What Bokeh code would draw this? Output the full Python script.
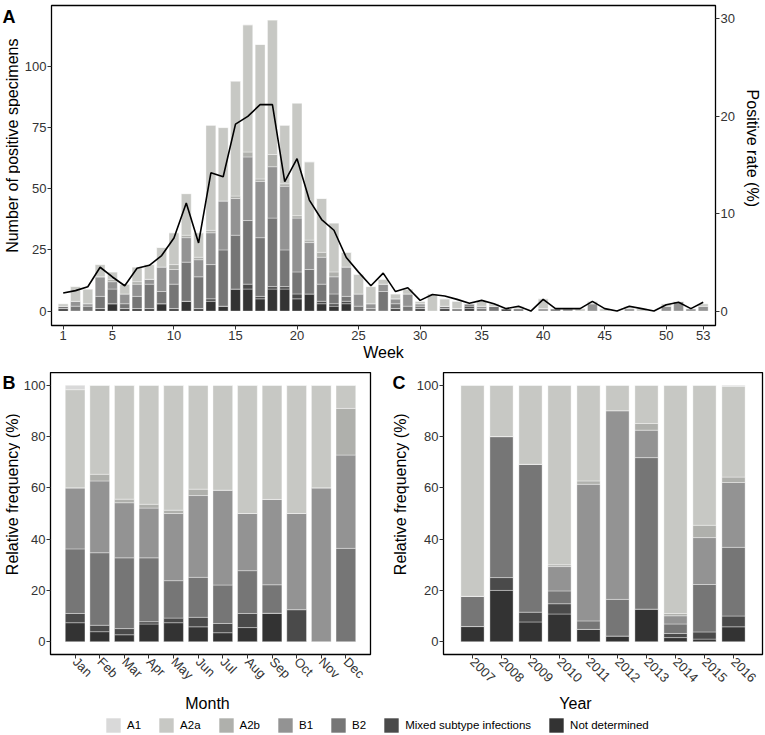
import math
from bokeh.plotting import figure
from bokeh.layouts import column, row
from bokeh.models import (ColumnDataSource, Range1d, LinearAxis, FixedTicker,
                          Legend, LegendItem)
from bokeh.core.properties import value
from bokeh.embed import file_html
from bokeh.resources import INLINE

FONT = "Liberation Sans"

# ---------------- data ----------------
subtypes = ["A1", "A2a", "A2b", "B1", "B2", "Mixed subtype infections", "Not determined"]
subtype_colors = ["#d9d9d9", "#c7c8c4", "#afb0ac", "#939393", "#767676", "#4a4a4a", "#333333"]

weeks = list(range(1, 54))
week_ticks = [1, 5, 10, 15, 20, 25, 30, 35, 40, 45, 50, 53]
wk_nd = [1, 0, 0, 1, 3, 1, 1, 1, 3, 1,
         4, 1, 4, 2, 9, 9, 5, 9, 9, 5,
         7, 3, 2, 3, 0, 0, 0, 1, 0, 1,
         0, 1, 0, 1, 0, 0, 1, 0, 0, 0,
         0, 0, 0, 0, 0, 0, 0, 0, 0, 0,
         0, 0, 0]
wk_mx = [0, 0, 0, 0, 0, 0, 0, 0, 0, 0,
         0, 0, 1, 0, 0, 2, 1, 1, 1, 2,
         0, 1, 1, 1, 0, 0, 0, 0, 0, 0,
         0, 0, 0, 1, 0, 0, 0, 0, 0, 0,
         0, 0, 0, 0, 0, 0, 0, 0, 0, 0,
         0, 0, 0]
wk_b2 = [1, 2, 2, 5, 6, 2, 5, 10, 5, 10,
         16, 13, 14, 23, 22, 26, 24, 28, 15, 9,
         10, 7, 4, 2, 2, 1, 8, 2, 2, 1,
         0, 1, 1, 1, 1, 2, 0, 1, 0, 0,
         1, 0, 0, 0, 0, 0, 0, 0, 0, 0,
         0, 0, 0]
wk_b1 = [0, 2, 1, 8, 3, 4, 5, 2, 10, 6,
         10, 7, 13, 20, 15, 26, 23, 21, 26, 22,
         11, 11, 7, 12, 5, 2, 3, 2, 5, 1,
         0, 0, 0, 0, 1, 0, 0, 0, 0, 1,
         0, 1, 0, 3, 0, 0, 1, 0, 0, 2,
         4, 1, 2]
wk_a2b = [0, 0, 0, 0, 1, 0, 1, 0, 0, 2,
          1, 1, 1, 0, 1, 2, 1, 5, 1, 1,
          1, 2, 2, 0, 0, 0, 0, 0, 0, 0,
          0, 0, 0, 0, 0, 0, 0, 0, 0, 0,
          0, 0, 0, 0, 0, 0, 0, 0, 0, 0,
          0, 0, 0]
wk_a2a = [1, 6, 6, 5, 3, 4, 6, 6, 8, 13,
          17, 10, 43, 30, 47, 52, 55, 55, 24, 46,
          32, 22, 20, 6, 8, 7, 2, 2, 2, 1,
          7, 3, 3, 0, 2, 1, 0, 1, 0, 4,
          0, 0, 1, 1, 1, 0, 1, 1, 0, 1,
          0, 0, 1]
wk_a1 = [0] * 53
wk_rate = [1.85, 2.1, 2.5, 4.5, 3.5, 2.6, 4.4, 4.7, 5.7, 7.5,
           11.1, 7.0, 14.2, 13.8, 19.2, 20.0, 21.2, 21.2, 13.3, 15.65,
           11.4, 9.4, 8.3, 5.5, 4.0, 2.6, 3.9, 2.0, 2.4, 1.1,
           1.7, 1.55, 1.2, 0.8, 1.1, 0.75, 0.25, 0.5, 0.0, 1.2,
           0.25, 0.25, 0.25, 1.0, 0.25, 0.0, 0.5, 0.25, 0.0, 0.65,
           0.9, 0.25, 0.9]

months = ["Jan", "Feb", "Mar", "Apr", "May", "Jun", "Jul", "Aug", "Sep", "Oct", "Nov", "Dec"]
mo_nd = [7.4, 3.9, 2.7, 6.9, 7.4, 5.8, 3.5, 5.5, 11.1, 0, 0, 0]
mo_mx = [3.6, 2.5, 2.4, 0.9, 1.8, 3.7, 3.6, 5.5, 0, 12.5, 0, 0]
mo_b2 = [25.2, 28.3, 27.6, 24.9, 14.6, 15.6, 15.0, 16.7, 11.1, 0, 0, 36.4]
mo_b1 = [23.8, 28.0, 21.5, 19.4, 26.2, 31.9, 37.0, 22.3, 33.3, 37.5, 60, 36.4]
mo_a2b = [0, 2.6, 1.4, 1.5, 1.3, 2.5, 0, 0, 0, 0, 0, 18.2]
mo_a2a = [38.3, 34.7, 44.4, 46.4, 48.7, 40.5, 40.9, 50, 44.5, 50, 40, 9.0]
mo_a1 = [1.7, 0, 0, 0, 0, 0, 0, 0, 0, 0, 0, 0]

years = ["2007", "2008", "2009", "2010", "2011", "2012", "2013", "2014", "2015", "2016"]
yr_nd = [5.9, 20, 7.7, 10.8, 4.8, 2.2, 12.7, 1.6, 1.0, 5.8]
yr_mx = [0, 5, 3.8, 4.0, 0, 0, 0, 1.6, 2.8, 4.2]
yr_b2 = [11.8, 55, 57.7, 5.0, 3.3, 14.3, 59.1, 3.7, 18.5, 26.8]
yr_b1 = [0, 0, 0, 9.5, 53.3, 73.6, 10.7, 3.2, 18.3, 25.3]
yr_a2b = [0, 0, 0, 0.7, 1.3, 0, 2.6, 0.9, 4.8, 2.1]
yr_a2a = [82.3, 20, 30.8, 70.0, 37.3, 9.9, 14.9, 89.0, 54.6, 35.4]
yr_a1 = [0, 0, 0, 0, 0, 0, 0, 0, 0, 0.4]

# bottom -> top stacking order and matching colours
stack_keys = ["nd", "mx", "b2", "b1", "a2b", "a2a", "a1"]
stack_colors = subtype_colors[::-1]

TICK_COL = "#333333"


def style_axis(ax, label_size="13px", title_size="16px"):
    ax.axis_line_color = None
    ax.major_tick_line_color = TICK_COL
    ax.major_tick_line_width = 1
    ax.major_tick_out = 4
    ax.major_tick_in = 0
    ax.minor_tick_line_color = None
    ax.major_label_text_font = FONT
    ax.major_label_text_font_size = label_size
    ax.major_label_text_color = TICK_COL
    ax.major_label_standoff = 1
    ax.axis_label_text_font = FONT
    ax.axis_label_text_font_size = title_size
    ax.axis_label_text_font_style = "normal"
    ax.axis_label_text_color = "black"
    ax.axis_label_standoff = 1


def base_style(p):
    p.xgrid.visible = False
    p.ygrid.visible = False
    p.outline_line_color = "black"
    p.outline_line_width = 1.3
    p.background_fill_color = "white"
    p.border_fill_color = "white"


def text_strip(w, h):
    s = figure(width=w, height=h, x_range=Range1d(0, w), y_range=Range1d(0, h),
               x_axis_type=None, y_axis_type=None, output_backend="svg",
               toolbar_location=None, title=None, min_border=0, min_border_left=0,
               min_border_right=0, min_border_top=0, min_border_bottom=0)
    s.outline_line_color = None
    s.background_fill_color = "white"
    s.border_fill_color = "white"
    return s


def add_text(s, x, y, txt, size="16px", angle=0.0, align="center", baseline="middle", bold=False):
    s.text(x=[x], y=[y], text=[txt], angle=angle, text_font=value(FONT),
           text_font_size=size, text_font_style="bold" if bold else "normal",
           text_align=align, text_baseline=baseline, text_color="black")


ROW1_H = 372
ROW2_H = 322
ROW3_H = 41

# ---------------- panel A ----------------
srcA = ColumnDataSource(dict(week=weeks, nd=wk_nd, mx=wk_mx, b2=wk_b2, b1=wk_b1,
                             a2b=wk_a2b, a2a=wk_a2a, a1=wk_a1, rate=wk_rate))
yA0, yA1 = -5.9, 124.9
RATE_FACTOR = 3.98
pA = figure(width=720, height=ROW1_H, x_range=Range1d(0.05, 54.0), y_range=Range1d(yA0, yA1),
            output_backend="svg", toolbar_location=None, title=None,
            min_border_left=31, min_border_right=25, min_border_top=5, min_border_bottom=47)
base_style(pA)
pA.vbar_stack(stack_keys, x="week", width=0.8, source=srcA, fill_color=stack_colors,
              line_color="white", line_width=0.6, line_alpha=0.6)
pA.extra_y_ranges = {"rate": Range1d(yA0 / RATE_FACTOR, yA1 / RATE_FACTOR)}
pA.line(x="week", y="rate", source=srcA, y_range_name="rate", line_color="black", line_width=1.6)
rax = LinearAxis(y_range_name="rate", ticker=FixedTicker(ticks=[0, 10, 20, 30]))
pA.add_layout(rax, "right")
pA.xaxis.ticker = FixedTicker(ticks=week_ticks)
pA.xaxis.axis_label = "Week"
pA.yaxis[0].ticker = FixedTicker(ticks=[0, 25, 50, 75, 100])
for ax in pA.axis:
    style_axis(ax)

sA = text_strip(20, ROW1_H)
add_text(sA, 2, ROW1_H - 2, "A", size="18px", align="left", baseline="top", bold=True)
add_text(sA, 12, ROW1_H - 163, "Number of positive specimens", angle=math.pi / 2)

sR = text_strip(25, ROW1_H)
add_text(sR, 12, ROW1_H - 166, "Positive rate (%)", angle=-math.pi / 2)

# ---------------- panel B ----------------
srcB = ColumnDataSource(dict(x=list(range(1, 13)), nd=mo_nd, mx=mo_mx, b2=mo_b2, b1=mo_b1,
                             a2b=mo_a2b, a2a=mo_a2a, a1=mo_a1))
pB = figure(width=362, height=ROW2_H, x_range=Range1d(0, 13), y_range=Range1d(-5, 105),
            output_backend="svg", toolbar_location=None, title=None,
            min_border_left=30, min_border_right=12, min_border_top=0, min_border_bottom=40)
base_style(pB)
pB.vbar_stack(stack_keys, x="x", width=0.8, source=srcB, fill_color=stack_colors,
              line_color="white", line_width=0.6, line_alpha=0.6)
pB.xaxis.ticker = FixedTicker(ticks=list(range(1, 13)))
pB.xaxis.major_label_overrides = {i + 1: m for i, m in enumerate(months)}
pB.xaxis.major_label_orientation = -math.pi / 4
pB.yaxis.ticker = FixedTicker(ticks=[0, 20, 40, 60, 80, 100])
for ax in pB.axis:
    style_axis(ax)

sB = text_strip(20, ROW2_H)
add_text(sB, 2, ROW2_H, "B", size="18px", align="left", baseline="top", bold=True)
add_text(sB, 12, ROW2_H - 139, "Relative frequency (%)", angle=math.pi / 2)

# ---------------- panel C ----------------
srcC = ColumnDataSource(dict(x=list(range(1, 11)), nd=yr_nd, mx=yr_mx, b2=yr_b2, b1=yr_b1,
                             a2b=yr_a2b, a2a=yr_a2a, a1=yr_a1))
pC = figure(width=353, height=ROW2_H, x_range=Range1d(0, 11), y_range=Range1d(-5, 105),
            output_backend="svg", toolbar_location=None, title=None,
            min_border_left=31, min_border_right=3, min_border_top=0, min_border_bottom=40)
base_style(pC)
pC.vbar_stack(stack_keys, x="x", width=0.8, source=srcC, fill_color=stack_colors,
              line_color="white", line_width=0.6, line_alpha=0.6)
pC.xaxis.ticker = FixedTicker(ticks=list(range(1, 11)))
pC.xaxis.major_label_overrides = {i + 1: y for i, y in enumerate(years)}
pC.xaxis.major_label_orientation = -math.pi / 4
pC.yaxis.ticker = FixedTicker(ticks=[0, 20, 40, 60, 80, 100])
for ax in pC.axis:
    style_axis(ax)

sC = text_strip(30, ROW2_H)
add_text(sC, 10, ROW2_H, "C", size="18px", align="left", baseline="top", bold=True)
add_text(sC, 18, ROW2_H - 139, "Relative frequency (%)", angle=math.pi / 2)

# ---------------- bottom strip: x titles + legend ----------------
sL = text_strip(765, ROW3_H)
add_text(sL, 207, ROW3_H - 9, "Month")
add_text(sL, 575, ROW3_H - 9, "Year")
items = []
for name, col in zip(subtypes, subtype_colors):
    r = sL.vbar(x=[-100], top=[-100], bottom=[-200], width=0.5, fill_color=col, line_color=None)
    items.append(LegendItem(label=name, renderers=[r]))
leg = Legend(items=items, orientation="horizontal", location=(104, 1),
             glyph_width=18, glyph_height=18, label_height=18, label_width=0,
             label_standoff=5, spacing=16, padding=0, margin=0, border_line_color=None,
             background_fill_alpha=0, label_text_font=FONT, label_text_font_size="11.5px",
             label_text_color="black")
sL.add_layout(leg, "center")

layout = column(row(sA, pA, sR), row(sB, pB, sC, pC), sL)
open("out.html", "w").write(file_html(layout, INLINE))
